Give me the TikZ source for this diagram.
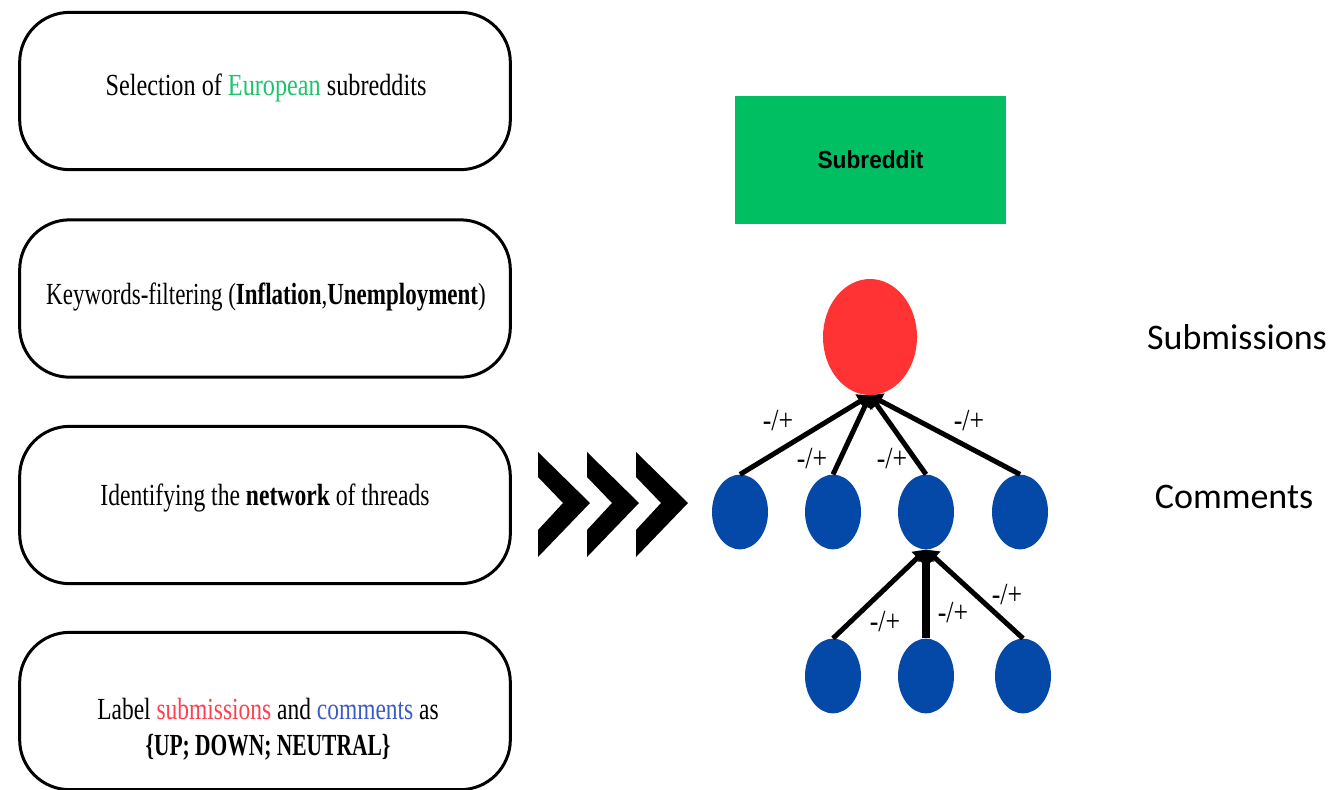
\documentclass[tikz,border=0pt]{standalone}
\usepackage{fontspec}
\setmainfont{Liberation Serif}
\newfontfamily\condA[FakeStretch=0.79]{Liberation Serif}
\newfontfamily\condB[FakeStretch=0.75]{Liberation Serif}
\newfontfamily\condC[FakeStretch=0.77]{Liberation Serif}
\newfontfamily\condD[FakeStretch=0.765]{Liberation Serif}
\newfontfamily\condE[FakeStretch=0.70]{Liberation Serif}
\newfontfamily\condL[FakeStretch=0.84]{Liberation Serif}
\newfontfamily\calib{Carlito}
\newfontfamily\sansb[FakeStretch=0.92]{Liberation Sans}
\usetikzlibrary{shapes.geometric,arrows.meta}
\definecolor{subgreen}{HTML}{00BF63}
\definecolor{subred}{HTML}{FF3333}
\definecolor{nodeblue}{HTML}{0448A8}
\definecolor{txtred}{HTML}{FF3F50}
\definecolor{txtblue}{HTML}{3D5BC9}
\definecolor{txtgreen}{HTML}{1CC46E}
\begin{document}
\begin{tikzpicture}[x=0.75pt,y=-0.75pt,
  stepbox/.style={draw, line width=2.25pt, rounded corners=37.5pt, minimum width=368pt, minimum height=118pt, inner sep=0pt},
  boxtext/.style={font=\fontsize{23}{27}\selectfont, align=center, inner sep=0pt},
  subnode/.style={ellipse, fill=subred, minimum width=70.5pt, minimum height=87pt, inner sep=0pt},
  comnode/.style={ellipse, fill=nodeblue, minimum width=42pt, minimum height=56pt, inner sep=0pt},
  edge/.style={line width=3.75pt, -{Triangle[length=9pt,width=12pt]}},
  lbl/.style={font=\condL\fontsize{23}{26}\selectfont, inner sep=0pt},
  sidelbl/.style={font=\calib\fontsize{27}{30}\selectfont, inner sep=0pt}
]
\useasboundingbox (0,0) rectangle (1333,789);
% left boxes
\node[stepbox] (b1) at (265,91) {};
\node[stepbox] (b2) at (265,298.5) {};
\node[stepbox] (b3) at (265,505) {};
\node[stepbox] (b4) at (265,711) {};
\node[boxtext] (t1) at (266,88) {\condA Selection of \textcolor{txtgreen}{European} subreddits};
\node[boxtext] (t2) at (266,297) {\condB Keywords-filtering (\textbf{Inflation},\textbf{Unemployment})};
\node[boxtext] (t3) at (265,498) {\condC Identifying the \textbf{network} of threads};
\node[boxtext] (t4) at (268,729) {\condD Label \textcolor{txtred}{submissions} and \textcolor{txtblue}{comments} as\\ \condE\bfseries\{UP; DOWN; NEUTRAL\}};
% chevrons
\foreach \d in {0,49,98}{
  \fill[shift={(\d,0)}] (538,452) -- (590,503) -- (538,557) -- (538,530) -- (563,503) -- (538,477) -- cycle;
}
% subreddit box
\node[fill=subgreen, minimum width=203pt, minimum height=96pt, inner sep=0pt, font=\sansb\bfseries\fontsize{18.5}{20}\selectfont] (sr) at (870.5,160) {Subreddit};
% tree
\node[subnode] (s) at (870,337) {};
\node[comnode] (c1) at (740,512) {};
\node[comnode] (c2) at (833,512) {};
\node[comnode] (c3) at (926,512) {};
\node[comnode] (c4) at (1020,512) {};
\node[comnode] (d1) at (833,676) {};
\node[comnode] (d2) at (926,676) {};
\node[comnode] (d3) at (1023,676) {};
\draw[edge] (c1.north) -- (s.south);
\draw[edge] (c2.north) -- (s.south);
\draw[edge] (c3.north) -- (s.south);
\draw[edge] (c4.north) -- (s.south);
\draw[edge] (d1.north) -- (c3.south);
\draw[edge, line width=6pt] (d2.north) -- (c3.south);
\draw[edge] (d3.north) -- (c3.south);
\node[lbl] (l1) at (778,421) {-/+};
\node[lbl] (l2) at (812,459) {-/+};
\node[lbl] (l3) at (892,459) {-/+};
\node[lbl] (l4) at (969,421) {-/+};
\node[lbl] (l5) at (885,622) {-/+};
\node[lbl] (l6) at (953,613) {-/+};
\node[lbl] (l7) at (1007,595) {-/+};
% side labels
\node[sidelbl] (sub) at (1237,337) {Submissions};
\node[sidelbl] (com) at (1234,497) {Comments};
\end{tikzpicture}
\end{document}
